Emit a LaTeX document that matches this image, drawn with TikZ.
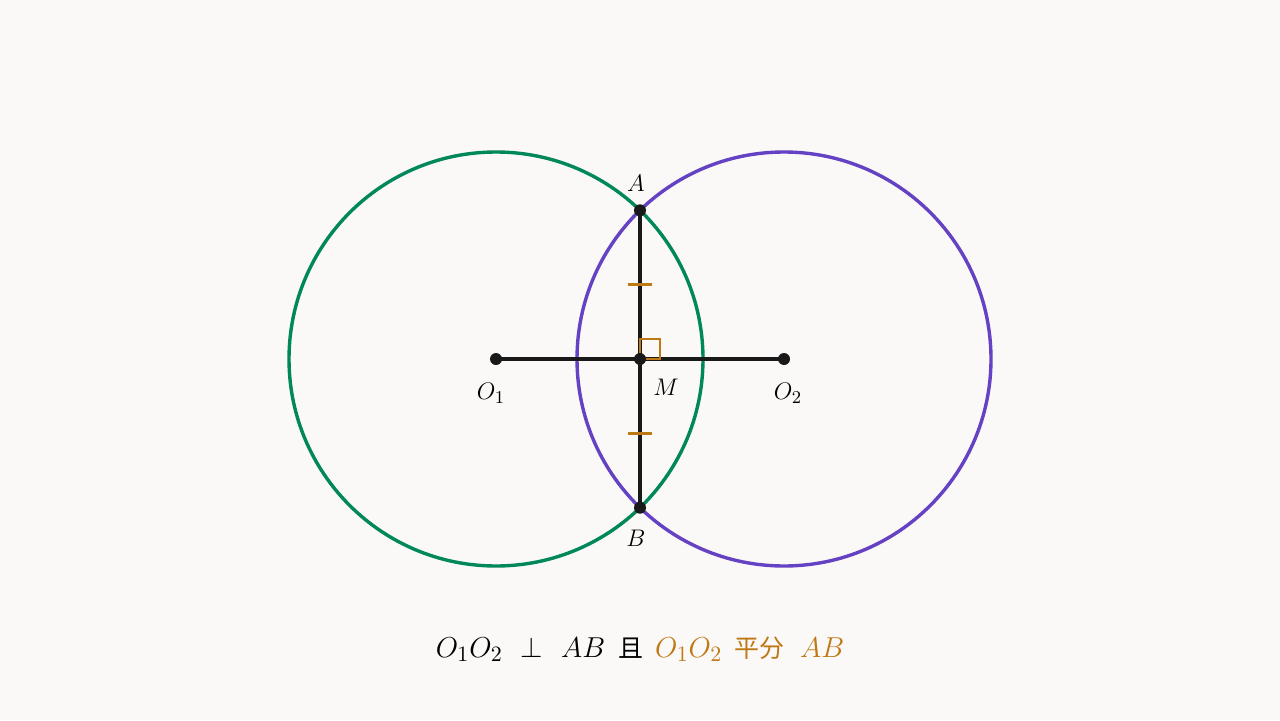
\documentclass[tikz,border=0pt]{standalone}
\usepackage{fontspec}
\newfontfamily\cjk{Noto Sans CJK SC}
\usetikzlibrary{calc}
\definecolor{bgpaper}{HTML}{FAF9F8}
\definecolor{circgreen}{HTML}{00875A}
\definecolor{circpurple}{HTML}{6541C3}
\definecolor{markorange}{HTML}{BE7814}
\tikzset{
  circ/.style={line width=1.7pt},
  seg/.style={line width=1.6pt, black!90},
  dot/.style={circle, fill=black!90, inner sep=0pt, minimum size=6pt},
  markline/.style={line width=1.2pt, markorange},
  lbl/.style={font=\fontsize{13}{15}\selectfont}
}
\newcommand{\zh}[1]{{\cjk\fontsize{12.5}{15}\selectfont #1}}
\begin{document}
\begin{tikzpicture}[x=0.5pt,y=0.5pt]
    \fill[bgpaper] (0,0) rectangle (1280,720);
    \useasboundingbox (0,0) rectangle (1280,720);

    \coordinate (O1) at (496, 361);
    \coordinate (O2) at (784, 361);
    \coordinate (M) at (640, 361);
    \coordinate (A) at (640, 509.7);
    \coordinate (B) at (640, 212.3);

    \draw[circ, circgreen] (O1) circle (207);
    \draw[circ, circpurple] (O2) circle (207);

    \draw[seg] (O1) -- (O2);
    \draw[seg] (A) -- (B);

    % equal halves
    \coordinate (T1) at ($(A)!0.5!(M)$);
    \coordinate (T2) at ($(B)!0.5!(M)$);
    \draw[markline] ($(T1)+(-12,0)$) -- ($(T1)+(12,0)$);
    \draw[markline] ($(T2)+(-12,0)$) -- ($(T2)+(12,0)$);
    \draw[markline] ($(M)+(0,20)$) -- ($(M)+(20,20)$) -- ($(M)+(20,0)$) -- (M) -- cycle;

    \node[dot] (dA) at (A) {};
    \node[dot] (dB) at (B) {};
    \node[dot] (dM) at (M) {};
    \node[dot] (dO1) at (O1) {};
    \node[dot] (dO2) at (O2) {};

    \node[lbl] at (636, 537) {$A$};
    \node[lbl] at (636, 182) {$B$};
    \node[lbl] at (666, 333) {$M$};
    \node[lbl] at (491, 327) {$O_1$};
    \node[lbl] at (788, 327) {$O_2$};

    \node[font=\fontsize{15.8}{19}\selectfont] (claim) at (640, 71)
      {$O_1O_2$\hspace{9pt}$\perp$\hspace{9pt}$AB$\hspace{6.5pt}\zh{且}\hspace{6pt}\textcolor{markorange}{$O_1O_2$\hspace{6pt}\zh{平分}\hspace{8pt}$AB$}};
\end{tikzpicture}
\end{document}
